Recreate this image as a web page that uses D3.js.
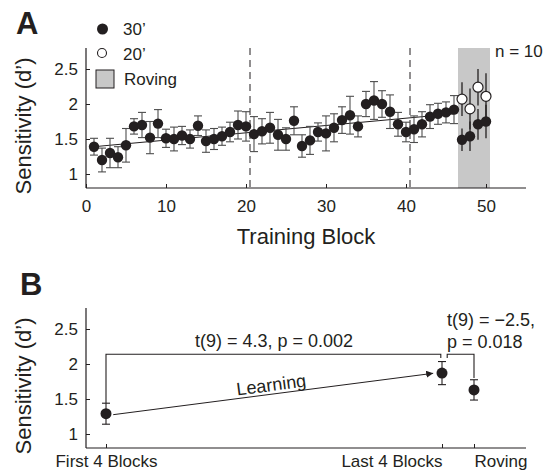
<!DOCTYPE html>
<html>
<head>
<meta charset="utf-8">
<script src="https://d3js.org/d3.v7.min.js"></script>
<style>
  body { margin: 0; background: #fff; }
  text { font-family: "Liberation Sans", Arial, Helvetica, sans-serif; fill: #231f20; }
</style>
</head>
<body>
<script>
// ---- panel A data ----
var sens30 = [1.39, 1.20, 1.30, 1.24, 1.41, 1.68, 1.70, 1.52, 1.72, 1.51,
              1.50, 1.55, 1.50, 1.69, 1.47, 1.50, 1.54, 1.60, 1.70, 1.68,
              1.57, 1.61, 1.66, 1.56, 1.50, 1.76, 1.40, 1.48, 1.60, 1.58,
              1.66, 1.77, 1.84, 1.68, 2.00, 2.05, 2.00, 1.89, 1.71, 1.60,
              1.64, 1.71, 1.82, 1.86, 1.88, 1.92, 1.49, 1.54, 1.71, 1.75];
var err30 = [0.12, 0.17, 0.21, 0.15, 0.24, 0.11, 0.18, 0.23, 0.20, 0.13,
             0.17, 0.13, 0.13, 0.14, 0.16, 0.15, 0.13, 0.14, 0.20, 0.21,
             0.25, 0.18, 0.22, 0.22, 0.16, 0.20, 0.16, 0.20, 0.13, 0.25,
             0.20, 0.19, 0.27, 0.15, 0.18, 0.27, 0.19, 0.24, 0.17, 0.14,
             0.19, 0.18, 0.17, 0.15, 0.15, 0.20, 0.16, 0.21, 0.22, 0.24];
var rovingBlocks = [47, 48, 49, 50];
var sens20 = [2.07, 1.93, 2.24, 2.11];
var err20 = [0.24, 0.29, 0.26, 0.33];
var trend = [[1, 1.39], [46, 1.86]];
var sessionBreaks = [20.5, 40.5];
var rovingSpan = [46.5, 50.5];
var xTicksA = [0, 10, 20, 30, 40, 50];
var yTicks = [1, 1.5, 2, 2.5];

// ---- panel B data ----
var condNames = ["First 4 Blocks", "Last 4 Blocks", "Roving"];
var condPos = [2.5, 44.5, 48.5];
var condSens = [1.29, 1.87, 1.63];
var condErr = [0.15, 0.165, 0.145];

var W = 558, H = 473;
var svg = d3.select("body").append("svg").attr("width", W).attr("height", H);
var ink = "#231f20";

var x = d3.scaleLinear().domain([0, 55]).range([86, 526]);
var yA = d3.scaleLinear().domain([0.8, 2.8]).range([188, 48]);
var yB = d3.scaleLinear().domain([0.8, 2.8]).range([448, 308]);

function drawAxes(g, y, xTicks, xLabels, anchors, xPad) {
  var yAx = d3.axisLeft(y).tickValues(yTicks).tickSizeInner(-4).tickSizeOuter(0).tickPadding(8)
    .tickFormat(function(d) { return d; });
  var gy = g.append("g").attr("transform", "translate(" + x.range()[0] + ",0)").call(yAx);
  var xAx = d3.axisBottom(x).tickValues(xTicks).tickSizeInner(-4).tickSizeOuter(0).tickPadding(xPad);
  if (xLabels) xAx.tickFormat(function(d, i) { return xLabels[i]; });
  var gx = g.append("g").attr("transform", "translate(0," + y.range()[0] + ")").call(xAx);
  [gx, gy].forEach(function(a) {
    a.select(".domain").attr("stroke", ink).attr("stroke-width", 1.2);
    a.selectAll(".tick line").attr("stroke", ink);
    a.selectAll(".tick text").style("font-size", "17px").attr("fill", ink)
      .style("font-family", '"Liberation Sans", Arial, sans-serif');
  });
  gx.select(".domain").attr("d", "M" + x.range()[0] + ",0H" + x.range()[1]);
  gy.select(".domain").attr("d", "M0," + y.range()[1] + "V" + y.range()[0]);
  if (anchors) gx.selectAll(".tick text").attr("text-anchor", function(d, i) { return anchors[i]; });
}

// ================= Panel A =================
var gA = svg.append("g");

gA.append("rect")
  .attr("x", x(rovingSpan[0])).attr("width", x(rovingSpan[1]) - x(rovingSpan[0]))
  .attr("y", yA(2.8)).attr("height", yA(0.8) - yA(2.8))
  .attr("fill", "#c8c8c8");

gA.selectAll(".brk").data(sessionBreaks).enter().append("line")
  .attr("x1", function(d) { return x(d); }).attr("x2", function(d) { return x(d); })
  .attr("y1", yA(2.8)).attr("y2", yA(0.8))
  .attr("stroke", ink).attr("stroke-width", 1).attr("stroke-dasharray", "7,5");

gA.append("line")
  .attr("x1", x(trend[0][0])).attr("y1", yA(trend[0][1]))
  .attr("x2", x(trend[1][0])).attr("y2", yA(trend[1][1]))
  .attr("stroke", ink).attr("stroke-width", 1);

var pts30 = sens30.map(function(v, i) { return { b: i + 1, v: v, e: err30[i] }; });
var pts20 = sens20.map(function(v, i) { return { b: rovingBlocks[i], v: v, e: err20[i] }; });

// training error bars (grey, capped)
var train = pts30.filter(function(d) { return d.b < rovingSpan[0]; });
var eb = gA.selectAll(".eb").data(train).enter().append("g").attr("stroke", "#4d4d4d").attr("stroke-width", 1.1);
eb.append("line").attr("x1", function(d) { return x(d.b); }).attr("x2", function(d) { return x(d.b); })
  .attr("y1", function(d) { return yA(d.v - d.e); }).attr("y2", function(d) { return yA(d.v + d.e); });
[-1, 1].forEach(function(s) {
  eb.append("line").attr("x1", function(d) { return x(d.b) - 4; }).attr("x2", function(d) { return x(d.b) + 4; })
    .attr("y1", function(d) { return yA(d.v + s * d.e); }).attr("y2", function(d) { return yA(d.v + s * d.e); });
});

// roving error bars (black, no caps)
var rov = pts30.filter(function(d) { return d.b > rovingSpan[0]; }).concat(pts20);
gA.selectAll(".ebr").data(rov).enter().append("line")
  .attr("x1", function(d) { return x(d.b); }).attr("x2", function(d) { return x(d.b); })
  .attr("y1", function(d) { return yA(d.v - d.e); }).attr("y2", function(d) { return yA(d.v + d.e); })
  .attr("stroke", ink).attr("stroke-width", 1.3);

gA.selectAll(".p30").data(pts30).enter().append("circle")
  .attr("cx", function(d) { return x(d.b); }).attr("cy", function(d) { return yA(d.v); })
  .attr("r", 5.2).attr("fill", ink);
gA.selectAll(".p20").data(pts20).enter().append("circle")
  .attr("cx", function(d) { return x(d.b); }).attr("cy", function(d) { return yA(d.v); })
  .attr("r", 5).attr("fill", "#fff").attr("stroke", ink).attr("stroke-width", 1.2);

drawAxes(gA, yA, xTicksA, null, null, 12);

gA.append("text").attr("x", 16).attr("y", 34).style("font-size", "31px").style("font-weight", "bold").text("A");
gA.append("text").attr("transform", "translate(31,126) rotate(-90)").attr("text-anchor", "middle")
  .style("font-size", "22px").text("Sensitivity (d\u2019)");
gA.append("text").attr("x", 306).attr("y", 244).attr("text-anchor", "middle")
  .style("font-size", "22px").text("Training Block");
gA.append("text").attr("x", 495).attr("y", 57).style("font-size", "17px").text("n = 10");

// legend
var lg = gA.append("g");
lg.append("circle").attr("cx", 102.5).attr("cy", 29).attr("r", 5.5).attr("fill", ink);
lg.append("text").attr("x", 123).attr("y", 35).style("font-size", "17px").text("30\u2019");
lg.append("circle").attr("cx", 102).attr("cy", 53).attr("r", 4.5).attr("fill", "#fff").attr("stroke", ink).attr("stroke-width", 1.1);
lg.append("text").attr("x", 123).attr("y", 60).style("font-size", "17px").text("20\u2019");
lg.append("rect").attr("x", 96).attr("y", 70).attr("width", 18).attr("height", 18)
  .attr("fill", "#c8c8c8").attr("stroke", ink).attr("stroke-width", 1);
lg.append("text").attr("x", 124).attr("y", 85).style("font-size", "17px").text("Roving");

// ================= Panel B =================
var gB = svg.append("g");
var cond = condNames.map(function(n, i) { return { n: n, p: condPos[i], v: condSens[i], e: condErr[i] }; });

// brackets
var bracketTop = 2.14, bracketDrop = 2.085;
gB.append("path")
  .attr("d", "M" + x(condPos[0]) + "," + yB(condSens[0] + condErr[0]) + "V" + yB(bracketTop) +
    "H" + x(44.35) + "V" + yB(bracketDrop))
  .attr("fill", "none").attr("stroke", ink).attr("stroke-width", 1.1);
gB.append("path")
  .attr("d", "M" + x(45.15) + "," + yB(bracketDrop) + "V" + yB(bracketTop) +
    "H" + x(condPos[2]) + "V" + yB(1.8))
  .attr("fill", "none").attr("stroke", ink).attr("stroke-width", 1.1);

// learning arrow
svg.append("defs").append("marker").attr("id", "arr").attr("viewBox", "0 0 10 10")
  .attr("refX", 10).attr("refY", 5).attr("markerWidth", 7).attr("markerHeight", 7)
  .attr("markerUnits", "userSpaceOnUse").attr("orient", "auto")
  .append("path").attr("d", "M0,0L10,5L0,10z").attr("fill", ink);
var a0 = [3.4, 1.276], a1 = [43.4, 1.867];
gB.append("line").attr("x1", x(a0[0])).attr("y1", yB(a0[1])).attr("x2", x(a1[0])).attr("y2", yB(a1[1]))
  .attr("stroke", ink).attr("stroke-width", 1).attr("marker-end", "url(#arr)");
var ang = Math.atan2(yB(a1[1]) - yB(a0[1]), x(a1[0]) - x(a0[0])) * 180 / Math.PI;
gB.append("text").attr("transform", "translate(272,391) rotate(" + ang + ")").attr("text-anchor", "middle")
  .style("font-size", "18px").text("Learning");

// error bars + points
var ebB = gB.selectAll(".ebB").data(cond).enter().append("g").attr("stroke", ink).attr("stroke-width", 1.1);
ebB.append("line").attr("x1", function(d) { return x(d.p); }).attr("x2", function(d) { return x(d.p); })
  .attr("y1", function(d) { return yB(d.v - d.e); }).attr("y2", function(d) { return yB(d.v + d.e); });
[-1, 1].forEach(function(s) {
  ebB.append("line").attr("x1", function(d) { return x(d.p) - 4; }).attr("x2", function(d) { return x(d.p) + 4; })
    .attr("y1", function(d) { return yB(d.v + s * d.e); }).attr("y2", function(d) { return yB(d.v + s * d.e); });
});
gB.selectAll(".pB").data(cond).enter().append("circle")
  .attr("cx", function(d) { return x(d.p); }).attr("cy", function(d) { return yB(d.v); })
  .attr("r", 5.5).attr("fill", ink);

drawAxes(gB, yB, condPos, condNames, ["middle", "end", "start"], 7);

gB.append("text").attr("x", 20).attr("y", 295).style("font-size", "31px").style("font-weight", "bold").text("B");
gB.append("text").attr("transform", "translate(31,386) rotate(-90)").attr("text-anchor", "middle")
  .style("font-size", "22px").text("Sensitivity (d\u2019)");
gB.append("text").attr("x", 274).attr("y", 347).attr("text-anchor", "middle")
  .style("font-size", "18px").text("t(9) = 4.3, p = 0.002");
gB.append("text").attr("x", 447).attr("y", 326).style("font-size", "18px").text("t(9) = \u22122.5,");
gB.append("text").attr("x", 447).attr("y", 348).style("font-size", "18px").text("p = 0.018");
</script>
</body>
</html>
